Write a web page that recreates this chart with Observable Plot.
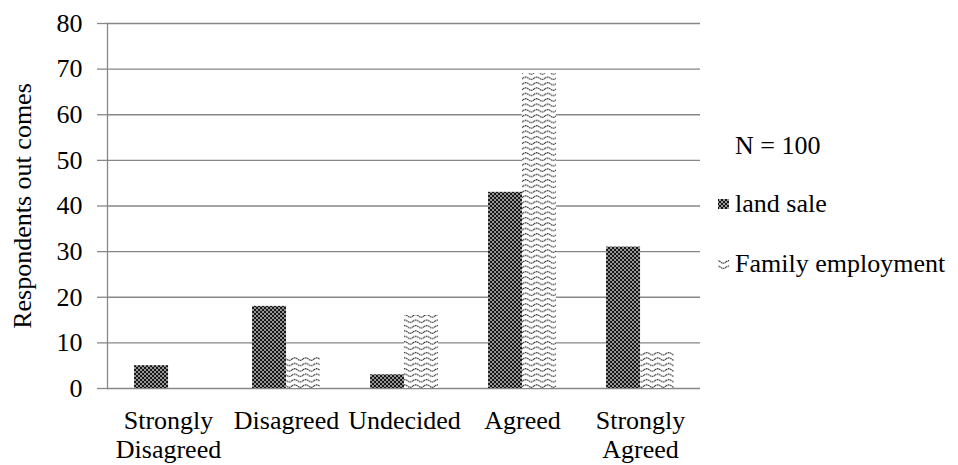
<!DOCTYPE html>
<html>
<head>
<meta charset="utf-8">
<script src="https://cdn.jsdelivr.net/npm/d3@7"></script>
<script src="https://cdn.jsdelivr.net/npm/@observablehq/plot@0.6"></script>
<style>
  body { margin: 0; background: #fff; }
  #chart { width: 958px; height: 465px; }
</style>
</head>
<body>
<div id="chart"></div>
<script>
// Survey responses (N = 100) per agreement level, for two outcomes
const categories = ["Strongly\nDisagreed", "Disagreed", "Undecided", "Agreed", "Strongly\nAgreed"];
const seriesNames = ["land sale", "Family employment"];
const landSale = [5, 18, 3, 43, 31];
const familyEmployment = [0, 7, 16, 69, 8];
const yTicks = [0, 10, 20, 30, 40, 50, 60, 70, 80];
const yLabel = "Respondents out comes";
const sampleNote = "N = 100";

const width = 958, height = 465;
const marginLeft = 107, marginRight = 258, marginTop = 23, marginBottom = 77;
const step = (width - marginLeft - marginRight) / categories.length;
const barWidth = step / 3.5;           // two bars plus a gap of 1.5 bar widths
const gridColor = "#878787";

const rows = (values) => categories.map((c, i) => ({category: c, value: values[i]}));

const chart = Plot.plot({
  width, height, marginLeft, marginRight, marginTop, marginBottom,
  style: {fontFamily: "'Liberation Serif', 'Times New Roman', serif", fontSize: "26px", color: "#000", background: "#fff"},
  x: {type: "band", domain: categories, paddingInner: 1 - barWidth / step, paddingOuter: (1 - barWidth / step) / 2},
  y: {domain: [0, 80]},
  marks: [
    Plot.ruleY(yTicks, {stroke: gridColor, strokeWidth: 1.3}),
    Plot.barY(rows(landSale), {x: "category", y: "value", fill: "url(#land-sale-fill)", dx: -barWidth / 2}),
    Plot.barY(rows(familyEmployment), {x: "category", y: "value", fill: "url(#family-fill)", dx: barWidth / 2}),
    Plot.frame({anchor: "left", stroke: gridColor, strokeWidth: 1.3}),
    Plot.axisY({ticks: yTicks, tickSize: 10, tickPadding: 15, stroke: gridColor, strokeWidth: 1.3, fill: "#000", label: null}),
    Plot.axisX({tickSize: 0, tickPadding: 21, lineHeight: 1.08, fill: "#000", label: null}),
    Plot.text([yLabel], {frameAnchor: "left", textAnchor: "middle", lineAnchor: "middle", rotate: -90, dx: -85, fill: "#000"})
  ]
});

// Hatch patterns used as bar fills
const svg = d3.select(chart);
const defs = svg.insert("defs", ":first-child");

const land = defs.append("pattern")
  .attr("id", "land-sale-fill").attr("patternUnits", "userSpaceOnUse")
  .attr("width", 4).attr("height", 4);
land.append("rect").attr("width", 4).attr("height", 4).attr("fill", "#141414");
for (const [cx, cy] of [[0, 0], [4, 0], [0, 4], [4, 4], [2, 2]]) {
  land.append("circle").attr("cx", cx).attr("cy", cy).attr("r", 0.9).attr("fill", "#d8d8d8");
}

const wave = defs.append("pattern")
  .attr("id", "family-fill").attr("patternUnits", "userSpaceOnUse")
  .attr("width", 11).attr("height", 5.4);
wave.append("rect").attr("width", 11).attr("height", 5.4).attr("fill", "#fff");
wave.append("path")
  .attr("d", "M0,2.7 Q2.75,0.4 5.5,2.7 T11,2.7")
  .attr("fill", "none").attr("stroke", "#1a1a1a").attr("stroke-width", 1.1)
  .attr("stroke-dasharray", "1.6 0.6");

// Legend at the right of the plot
const legend = svg.append("g")
  .attr("fill", "#000").attr("font-size", 26).attr("text-anchor", "start");
legend.append("text").attr("x", 735).attr("y", 145).attr("dy", "0.35em").text(sampleNote);
const swatchIds = ["land-sale-fill", "family-fill"];
seriesNames.forEach((name, i) => {
  const cy = 204 + i * 60;
  legend.append("rect")
    .attr("x", 718).attr("y", cy - 5).attr("width", 11).attr("height", 10)
    .attr("fill", `url(#${swatchIds[i]})`);
  legend.append("text").attr("x", 735).attr("y", cy - 1).attr("dy", "0.35em").text(name);
});

document.getElementById("chart").appendChild(chart);
</script>
</body>
</html>
